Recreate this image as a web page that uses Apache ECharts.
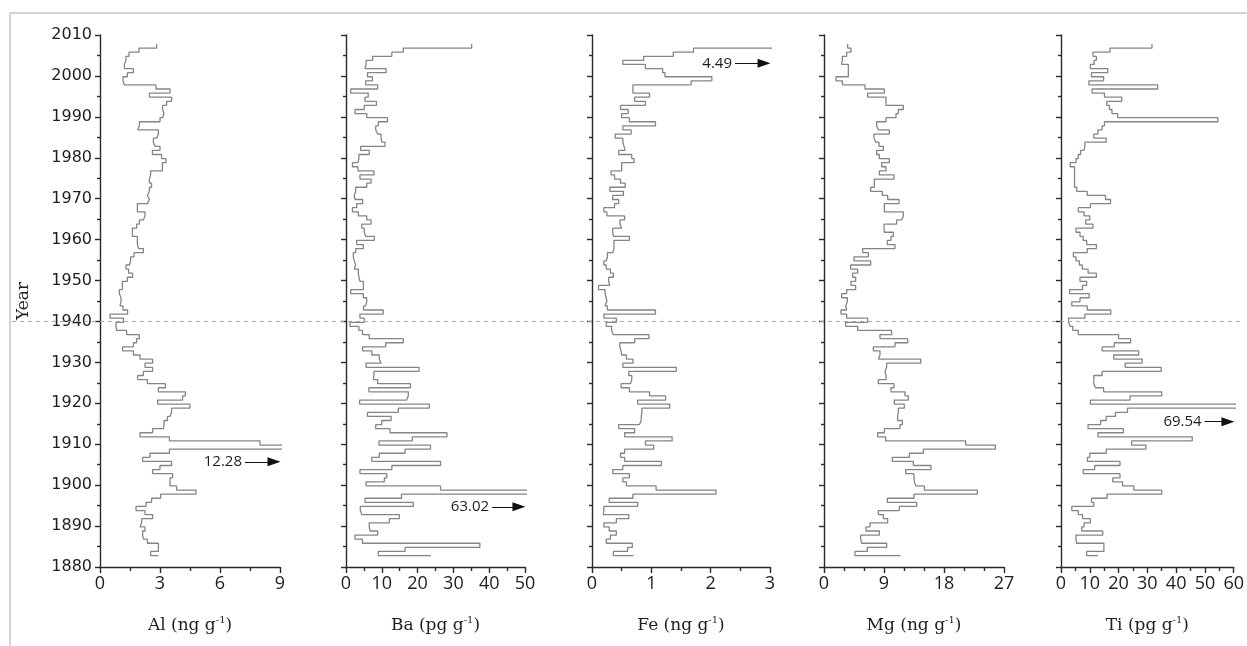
<!DOCTYPE html>
<html><head><meta charset="utf-8">
<script src="https://cdn.jsdelivr.net/npm/echarts/dist/echarts.min.js"></script>
<style>html,body{margin:0;padding:0;background:#fff}#c{width:1247px;height:646px}</style>
</head><body><div id="c"></div>
<script>
// Sample layout: annual samples, youngest at top
const yearTop = 2007.8;     // upper edge of the first sample
const sampleCount = 125;    // samples 2007 ... 1883
// values listed from 2007 (top) down to 1883, last entry = bottom closing value
const al = [
  2.83,1.95,1.45,1.30,1.22,1.22,1.67,1.37,1.15,1.22,
  2.80,3.50,2.47,3.58,3.33,3.13,3.20,3.13,3.00,1.97,
  1.88,2.92,2.83,2.67,2.75,3.00,2.62,3.08,3.30,3.12,
  3.12,2.53,2.47,2.47,2.58,2.47,2.37,2.47,2.37,1.87,
  1.87,2.25,2.17,1.97,1.83,1.62,1.62,1.87,1.87,1.93,
  2.17,1.70,1.53,1.47,1.30,1.43,1.63,1.37,1.12,1.12,
  0.97,1.05,1.05,1.00,1.15,1.38,0.50,1.17,0.80,0.83,
  1.33,1.97,1.83,1.67,1.13,1.67,2.00,2.63,2.25,2.63,
  2.17,1.88,2.37,3.27,2.92,4.27,4.13,2.88,4.50,3.58,
  3.50,3.37,3.20,3.17,2.63,2.00,3.47,8.00,12.28,3.47,
  2.50,2.13,3.58,3.00,2.63,3.63,3.50,3.50,3.83,4.80,
  3.03,2.58,2.30,1.80,2.25,2.63,2.08,2.00,2.25,2.13,
  2.17,2.37,2.92,2.92,2.53,
  2.92];
const ba = [
  35.1,16.0,12.8,7.45,5.6,5.3,11.2,6.0,7.35,5.5,
  8.85,1.3,6.2,5.3,8.5,5.1,2.5,5.8,11.6,9.0,
  8.3,8.85,9.8,10.0,10.9,4.1,6.5,3.6,3.3,1.8,
  3.3,7.8,3.9,7.0,5.8,2.7,2.3,2.5,4.65,3.0,
  1.8,3.45,5.8,7.0,4.4,5.1,5.5,7.9,3.0,4.85,
  2.7,2.05,2.3,2.7,2.3,3.45,3.6,3.9,4.85,4.85,
  1.3,4.85,5.8,5.5,4.9,10.4,3.9,5.1,1.1,3.6,
  4.6,6.5,16.0,11.1,4.65,7.2,9.3,9.8,5.6,20.4,
  7.8,7.6,8.85,18.0,6.4,17.4,16.9,3.8,23.3,14.6,
  6.0,12.6,10.0,8.3,12.3,28.2,18.5,9.2,23.6,16.5,
  9.3,7.2,26.4,12.8,3.9,11.4,10.7,5.6,26.4,63.02,
  15.5,5.3,18.8,4.0,4.4,14.9,12.1,6.5,6.7,8.85,
  2.5,4.6,37.4,16.5,9.0,
  23.7];
const fe = [
  4.49,1.71,1.37,0.87,0.52,0.90,1.19,1.23,2.02,1.67,
  0.69,0.69,0.97,0.72,0.90,0.48,0.61,0.50,0.63,1.07,
  0.52,0.66,0.39,0.52,0.54,0.56,0.45,0.67,0.71,0.50,
  0.50,0.32,0.38,0.48,0.56,0.30,0.53,0.35,0.45,0.38,
  0.20,0.25,0.55,0.47,0.50,0.35,0.36,0.63,0.37,0.37,
  0.35,0.26,0.24,0.20,0.24,0.31,0.36,0.28,0.30,0.11,
  0.22,0.24,0.25,0.22,0.26,1.07,0.20,0.41,0.24,0.33,
  0.36,0.96,0.72,0.47,0.49,0.50,0.58,0.69,0.52,1.42,
  0.62,0.67,0.65,0.49,0.63,0.97,1.24,0.77,1.31,0.84,
  0.83,0.83,0.80,0.45,0.72,0.55,1.35,0.90,1.04,0.55,
  0.48,0.55,1.17,0.52,0.35,0.63,0.52,0.58,1.08,2.09,
  0.69,0.29,0.77,0.20,0.19,0.62,0.41,0.20,0.29,0.41,
  0.31,0.24,0.68,0.60,0.36,
  0.70];
const mg = [
  3.55,4.05,3.4,2.75,2.65,3.65,3.65,3.65,1.8,2.75,
  6.15,9.05,6.55,9.3,9.3,11.9,11.15,10.8,9.3,7.9,
  8.15,9.8,7.5,7.75,8.25,8.9,7.9,8.3,9.8,8.65,
  9.3,8.3,10.5,7.55,7.55,7.0,8.75,9.55,11.25,9.05,
  9.05,11.9,11.65,10.9,9.0,9.05,10.4,10.05,9.5,10.65,
  5.8,6.65,4.5,7.0,4.0,5.05,4.3,4.75,4.05,4.75,
  3.4,2.65,3.5,3.25,3.4,2.55,3.4,6.55,3.25,5.05,
  10.15,8.4,12.55,10.65,7.4,8.4,8.15,14.5,9.4,9.15,
  9.3,9.3,8.15,10.5,10.05,12.15,12.65,10.55,12.05,11.15,
  11.05,11.05,11.75,11.4,9.05,8.05,9.25,21.25,25.7,14.9,
  12.8,10.25,13.4,16.05,12.25,13.5,13.55,13.8,15.05,23.0,
  13.5,9.5,13.9,11.3,8.15,8.9,9.55,6.9,6.3,8.3,
  5.5,5.65,9.4,6.5,4.65,
  11.5];
const ti = [
  31.6,17.0,11.1,12.3,11.5,10.2,16.25,10.6,14.8,9.7,
  33.6,10.8,15.1,21.1,15.9,16.8,17.7,19.7,54.5,15.1,
  14.3,12.8,11.4,15.7,8.3,8.0,6.8,6.0,5.2,3.2,
  4.7,4.7,4.7,4.7,4.7,5.45,9.1,15.45,17.2,10.2,
  6.0,8.0,10.0,8.6,11.1,5.2,6.6,7.7,8.9,12.3,
  9.1,4.3,5.2,6.4,7.4,9.4,12.3,6.6,8.9,7.5,
  3.0,9.8,6.6,3.75,9.1,17.3,8.3,2.6,3.2,4.1,
  6.0,20.0,24.2,18.5,14.3,27.0,18.3,28.2,22.3,34.8,
  14.3,11.4,11.4,12.0,14.8,35.0,24.0,10.2,69.54,23.1,
  18.9,15.7,13.75,9.4,21.7,12.8,45.6,24.5,29.5,15.7,
  10.0,9.2,20.5,11.7,7.7,20.5,18.0,21.4,25.3,35.0,
  16.0,10.6,11.4,3.75,6.0,7.5,10.2,8.0,7.2,14.5,
  5.2,5.45,14.9,14.9,8.9,
  12.8];

const axisNames = ['Al (ng g{s|-1})','Ba (pg g{s|-1})','Fe (ng g{s|-1})','Mg (ng g{s|-1})','Ti (pg g{s|-1})'];
const axisMax = [9, 50, 3, 27, 60];
const axisStep = [3, 10, 1, 9, 10];
const minorSplit = [2, 2, 2, 3, 2];
const yearTicks = {min: 1880, max: 2010, step: 10};
const markerYear = 1940;
// off-scale values annotated with arrows: [panel, label, year, arrow start, arrow end]
const arrowNotes = [
  [0, '12.28', 1905.7, 7.25, 8.7],
  [1, '63.02', 1894.7, 40.8, 48.3],
  [2, '4.49', 2003.1, 2.41, 2.9],
  [4, '69.54', 1915.5, 49.9, 58.0]
];

const seriesValues = [al, ba, fe, mg, ti];
const gridLeft = [100, 346, 592, 824, 1061];
const gridWidth = [180, 179, 178, 180, 176];

const bounds = [];
for (let i = 0; i <= sampleCount; i++) bounds.push(yearTop - i);
function profile(vals) {
  const pts = [];
  for (let i = 0; i < sampleCount; i++) {
    pts.push([vals[i], bounds[i]]);
    pts.push([vals[i], bounds[i + 1]]);
  }
  pts.push([vals[sampleCount], bounds[sampleCount]]);
  return pts;
}

const sans = 'Open Sans';
const serif = 'DejaVu Serif';
const ink = '#1e1e1e';
const grids = [], xAxes = [], yAxes = [], series = [];
for (let p = 0; p < 5; p++) {
  grids.push({left: gridLeft[p], width: gridWidth[p], top: 35, height: 532});
  xAxes.push({
    type: 'value', gridIndex: p, min: 0, max: axisMax[p], interval: axisStep[p],
    axisLine: {show: true, onZero: false, lineStyle: {color: '#2a2a2a', width: 1.4}},
    axisTick: {show: true, length: 6, lineStyle: {color: '#2a2a2a', width: 1.4}},
    minorTick: {show: true, splitNumber: minorSplit[p], length: 4, lineStyle: {color: '#2a2a2a', width: 1.4}},
    splitLine: {show: false},
    axisLabel: {color: ink, fontSize: 18, fontFamily: sans, margin: 8, formatter: v => String(v)},
    name: axisNames[p], nameLocation: 'middle', nameGap: 48,
    nameTextStyle: {color: ink, fontSize: 17, fontFamily: serif, lineHeight: 22,
      rich: {s: {fontSize: 10, fontFamily: serif, verticalAlign: 'top', lineHeight: 14, color: ink}}}
  });
  yAxes.push({
    type: 'value', gridIndex: p, min: yearTicks.min, max: yearTicks.max, interval: yearTicks.step,
    axisLine: {show: true, lineStyle: {color: '#2a2a2a', width: 1.4}},
    axisTick: {show: true, length: 5, lineStyle: {color: '#2a2a2a', width: 1.4}},
    minorTick: {show: true, splitNumber: 2, length: 3, lineStyle: {color: '#2a2a2a', width: 1.4}},
    splitLine: {show: false},
    axisLabel: {show: p === 0, color: ink, fontSize: 16, fontFamily: 'DejaVu Sans', margin: 8, formatter: v => String(v)},
    name: p === 0 ? 'Year' : '', nameLocation: 'middle', nameGap: 68,
    nameTextStyle: {color: ink, fontSize: 17, fontFamily: serif}
  });
  const s = {
    type: 'line', xAxisIndex: p, yAxisIndex: p, data: profile(seriesValues[p]),
    showSymbol: false, symbol: 'none', clip: true, animation: false, silent: true,
    lineStyle: {color: '#858585', width: 1.3}
  };
  const notes = arrowNotes.filter(n => n[0] === p);
  if (notes.length) {
    s.markLine = {
      silent: true, animation: false, symbol: ['none', 'triangle'], symbolSize: [9, 13],
      lineStyle: {color: '#111', width: 1, type: 'solid'},
      label: {show: true, position: 'start', distance: 3, color: ink, fontSize: 15, fontFamily: sans,
        formatter: (d) => d.name},
      data: notes.map(n => [{coord: [n[3], n[2]], name: n[1]}, {coord: [n[4], n[2]]}])
    };
  }
  series.push(s);
}

const chart = echarts.init(document.getElementById('c'), null, {renderer: 'canvas'});
chart.setOption({backgroundColor: '#fff', animation: false, grid: grids, xAxis: xAxes, yAxis: yAxes, series: series});
const yLine = chart.convertToPixel({gridIndex: 0}, [0, markerYear])[1];
chart.setOption({graphic: [
  {type: 'line', shape: {x1: 10, y1: 13, x2: 1247, y2: 13}, style: {stroke: '#c4c4c4', lineWidth: 1.5}, silent: true},
  {type: 'line', shape: {x1: 10, y1: 13, x2: 10, y2: 646}, style: {stroke: '#c4c4c4', lineWidth: 1.5}, silent: true},
  {type: 'line', shape: {x1: 12, y1: yLine, x2: 1240, y2: yLine}, style: {stroke: '#a8a8a8', lineWidth: 1, lineDash: [4, 4]}, silent: true, z: 100}
]});
</script></body></html>
